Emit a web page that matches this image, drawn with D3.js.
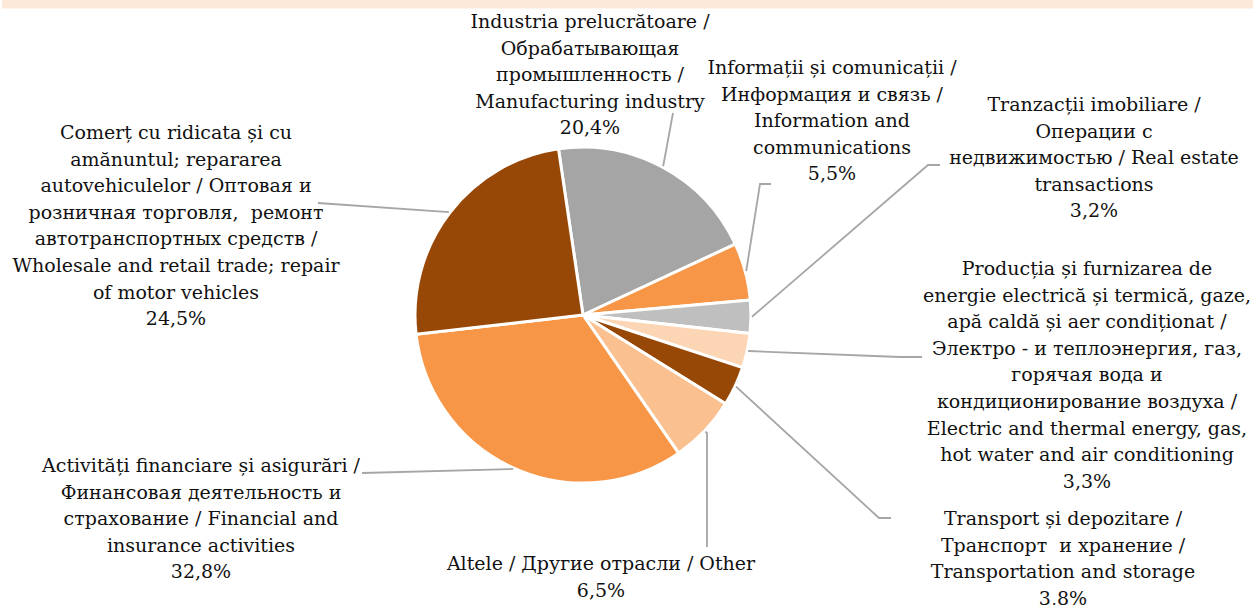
<!DOCTYPE html>
<html>
<head>
<meta charset="utf-8">
<script src="https://cdn.jsdelivr.net/npm/d3@7"></script>
<style>
  body { margin: 0; background: #fff; }
  svg { display: block; }
</style>
</head>
<body>
<div id="chart"></div>
<script>
var w = 1253;
var h = 605;

// data
var categories = [
  "manufacturing", "info", "realestate", "energy",
  "transport", "other", "financial", "trade"
];
var shares = [20.4, 5.5, 3.2, 3.3, 3.8, 6.5, 32.8, 24.5];
var shareLabels = ["20,4%", "5,5%", "3,2%", "3,3%", "3,8%", "6,5%", "32,8%", "24,5%"];
var labelLines = [
  ["Industria prelucrătoare /", "Обрабатывающая", "промышленность /", "Manufacturing industry"],
  ["Informații și comunicații /", "Информация и связь /", "Information and", "communications"],
  ["Tranzacții imobiliare /", "Операции с", "недвижимостью / Real estate", "transactions"],
  ["Producția și furnizarea de", "energie electrică și termică, gaze,", "apă caldă și aer condiționat /",
   "Электро - и теплоэнергия, газ,", "горячая вода и", "кондиционирование воздуха /",
   "Electric and thermal energy, gas,", "hot water and air conditioning"],
  ["Transport și depozitare /", "Транспорт  и хранение /", "Transportation and storage"],
  ["Altele / Другие отрасли / Other"],
  ["Activități financiare și asigurări /", "Финансовая деятельность и", "страхование / Financial and", "insurance activities"],
  ["Comerț cu ridicata și cu", "amănuntul; repararea", "autovehiculelor / Оптовая и",
   "розничная торговля,  ремонт", "автотранспортных средств /", "Wholesale and retail trade; repair", "of motor vehicles"]
];

// styles / layout
var colors = ["#a5a5a5", "#f79646", "#bfbfbf", "#fcd5b5", "#974706", "#fac090", "#f79646", "#974706"];
var labelPos = [
  [590, 28], [832, 74], [1094, 111], [1087, 275],
  [1063, 525], [601, 570], [201, 472], [176, 139]
];
// leader line bends and ends
var leaderPts = [
  [[673, 113]],
  [[760, 184], [771, 184]],
  [[928, 165], [940, 165]],
  [[900, 357], [922, 357]],
  [[879, 518], [891, 518]],
  [[707, 433], [707, 547]],
  [[362, 473]],
  [[318, 203]]
];

var cx = 583, cy = 315, r = 168;
var lineH = 26.6;
var start = -8.4 * Math.PI / 180;

var svg = d3.select("#chart").append("svg")
  .attr("width", w)
  .attr("height", h);

// top band
svg.append("rect")
  .attr("x", 2).attr("y", 0)
  .attr("width", w - 2).attr("height", 8.5)
  .attr("fill", "#fde9d9");

var pie = d3.pie()
  .sort(null)
  .value(function (d) { return d; })
  .startAngle(start)
  .endAngle(start + 2 * Math.PI);

var arcs = pie(shares);

var arc = d3.arc().innerRadius(0).outerRadius(r);

var g = svg.append("g").attr("transform", "translate(" + cx + "," + cy + ")");

g.selectAll("path.slice")
  .data(arcs)
  .enter()
  .append("path")
  .attr("class", "slice")
  .attr("d", arc)
  .attr("fill", function (d, i) { return colors[i]; })
  .attr("stroke", "#fff")
  .attr("stroke-width", 3)
  .attr("stroke-linejoin", "round");

// leader lines
var line = d3.line();
svg.selectAll("path.leader")
  .data(arcs)
  .enter()
  .append("path")
  .attr("class", "leader")
  .attr("d", function (d, i) {
    var a = (d.startAngle + d.endAngle) / 2;
    var p0 = [cx + (r + 1) * Math.sin(a), cy - (r + 1) * Math.cos(a)];
    return line([p0].concat(leaderPts[i]));
  })
  .attr("fill", "none")
  .attr("stroke", "#a6a6a6")
  .attr("stroke-width", 1.8);

// labels
var labels = svg.selectAll("text.lbl")
  .data(arcs)
  .enter()
  .append("text")
  .attr("class", "lbl")
  .attr("x", function (d, i) { return labelPos[i][0]; })
  .attr("y", function (d, i) { return labelPos[i][1]; })
  .attr("text-anchor", "middle")
  .attr("font-family", "DejaVu Serif")
  .attr("font-size", 19)
  .attr("fill", "#111")
  .style("white-space", "pre");

labels.each(function (d, i) {
  var t = d3.select(this);
  var lines = labelLines[i].concat([shareLabels[i]]);
  lines.forEach(function (s, j) {
    t.append("tspan")
      .attr("x", labelPos[i][0])
      .attr("dy", j === 0 ? 0 : lineH)
      .text(s);
  });
});
</script>
</body>
</html>
